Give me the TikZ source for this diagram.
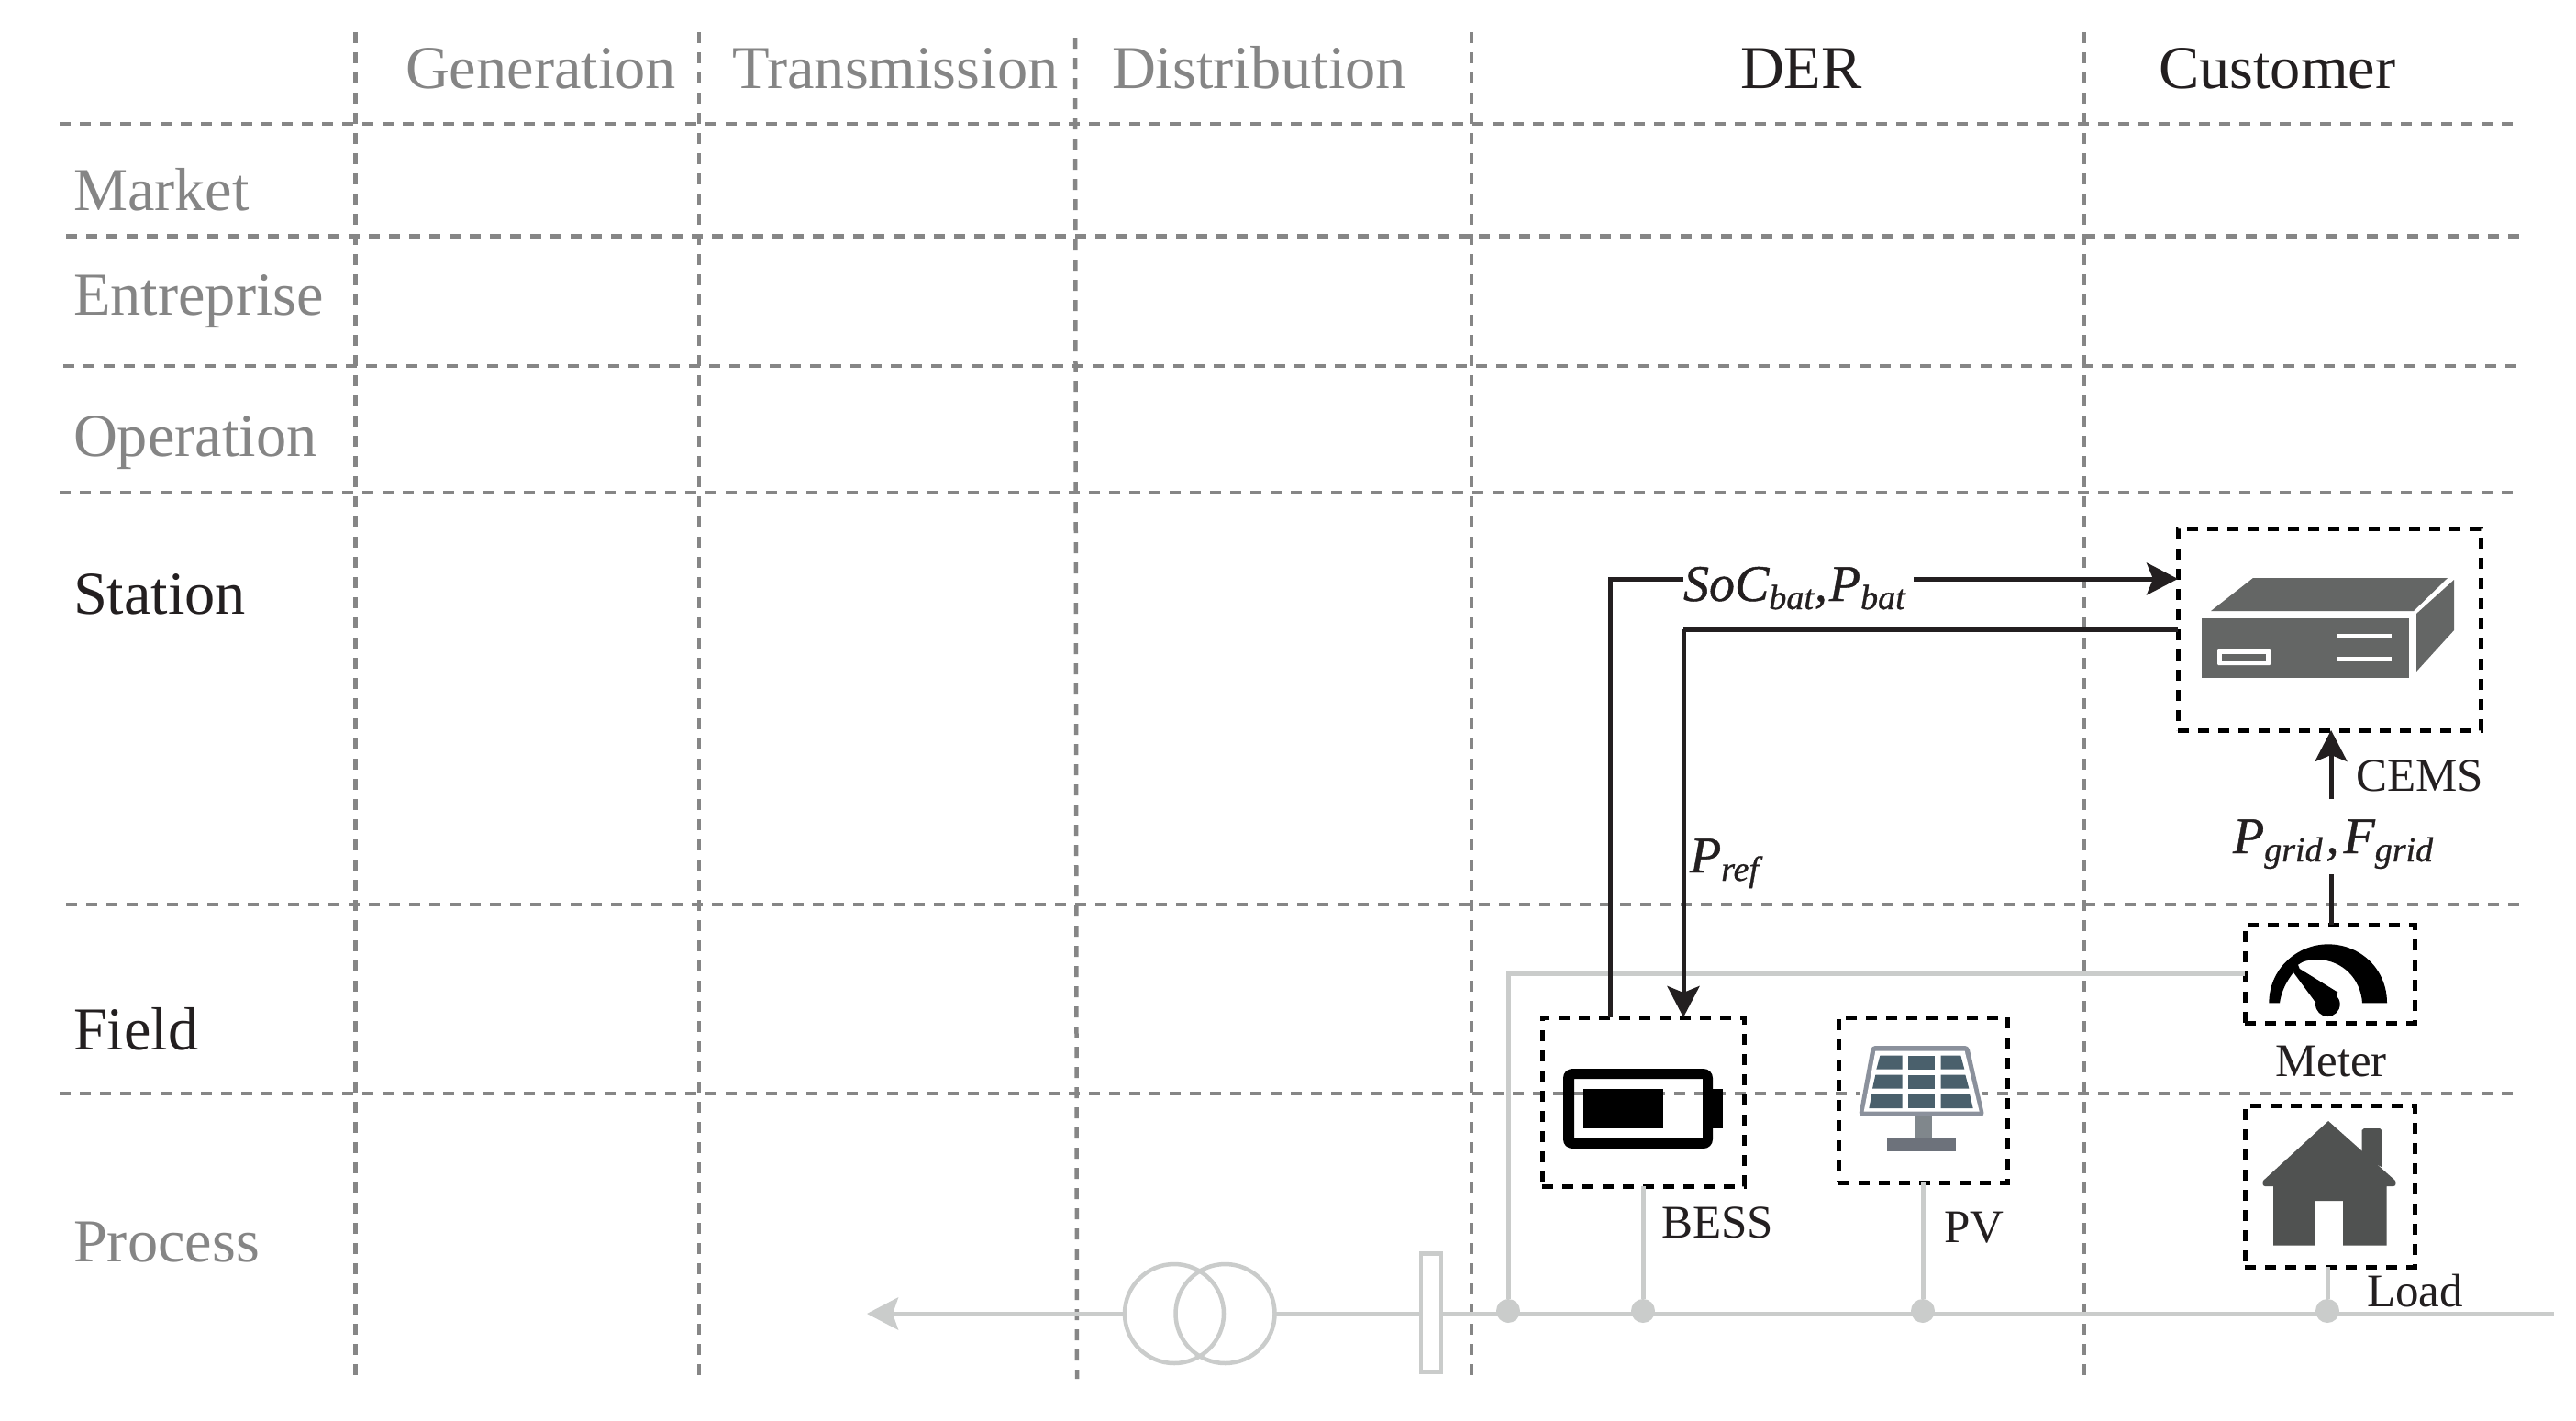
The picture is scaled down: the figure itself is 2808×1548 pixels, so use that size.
\documentclass[tikz,border=0pt]{standalone}
\usepackage{fontspec}
\setmainfont{Liberation Serif}
\newfontface\sgfont{Liberation Serif Italic}[FakeBold=0.8]
\usetikzlibrary{arrows.meta}
\definecolor{gridgray}{HTML}{868686}
\definecolor{txtgray}{HTML}{858585}
\definecolor{ink}{HTML}{231F20}
\definecolor{wiregray}{HTML}{CACCCB}
\definecolor{servergray}{HTML}{646665}
\definecolor{housegray}{HTML}{505251}
\definecolor{pvframe}{HTML}{8B919C}
\definecolor{pvcell}{HTML}{4A606C}
\definecolor{pvstem}{HTML}{80878C}
\definecolor{pvbase}{HTML}{6D727B}
\newcommand{\bigfs}{\fontsize{66.4}{66.4}\selectfont}
\newcommand{\midfs}{\fontsize{51}{51}\selectfont}
\newcommand{\sglabel}[2]{{\sgfont\fontsize{56}{56}\selectfont #1\raisebox{-9pt}{\sgfont\fontsize{38}{38}\selectfont #2}}}
\tikzset{
  gridv/.style={draw=gridgray,line width=4.5pt,dash pattern=on 12pt off 10pt},
  gridh/.style={draw=gridgray,line width=4.5pt,dash pattern=on 12pt off 10pt},
  dbox/.style={draw=black,line width=5pt,dash pattern=on 12pt off 10pt,inner sep=0pt,outer sep=0pt,rectangle},
  lbl/.style={anchor=base west,inner sep=0pt,outer sep=0pt,text=ink,font=\bigfs},
  glbl/.style={lbl,text=txtgray},
  slbl/.style={lbl,font=\midfs},
  ctrl/.style={draw=ink,line width=5pt},
  ctrltip/.style={ctrl,-{Stealth[length=34pt,width=35pt,inset=7pt]}},
  wire/.style={draw=wiregray,line width=5pt},
  dot/.style={circle,fill=wiregray,inner sep=0pt,outer sep=0pt,minimum size=26pt},
  coil/.style={circle,draw=wiregray,line width=4.5pt,inner sep=0pt,outer sep=0pt,minimum size=108pt},
  breaker/.style={rectangle,draw=wiregray,line width=4.5pt,fill=white,inner sep=0pt,outer sep=0pt,minimum width=22pt,minimum height=129pt},
}
\begin{document}
\begin{tikzpicture}[x=1pt,y=-1pt]
\useasboundingbox (0,0) rectangle (2808,1548);
\fill[white] (0,0) rectangle (2808,1548);
% grid
\draw[gridv] (387.5,35) -- (387.5,1503);
\draw[gridv] (762,35) -- (762,1503);
\draw[gridv] (1172,41) -- (1174,1503);
\draw[gridv] (1604,35) -- (1604,1503);
\draw[gridv] (2272,35) -- (2272,1503);
\draw[gridh] (65,135) -- (2747,135);
\draw[gridh] (72,257.5) -- (2754,257.5);
\draw[gridh] (69,399) -- (2747,399);
\draw[gridh] (65,537) -- (2747,537);
\draw[gridh] (72,986) -- (2747,986);
\draw[gridh] (65,1192) -- (2747,1192);
% header labels
\node[glbl] (hgen) at (442,96) {Generation};
\node[glbl] (htra) at (798,96) {Transmission};
\node[glbl] (hdis) at (1212,96) {Distribution};
\node[lbl] (hder) at (1897,96) {DER};
\node[lbl] (hcus) at (2353,96) {Customer};
\node[glbl] (rmar) at (80,229) {Market};
\node[glbl] (rent) at (80,343.5) {Entreprise};
\node[glbl] (rope) at (80,497) {Operation};
\node[lbl] (rsta) at (80,669) {Station};
\node[lbl] (rfie) at (80,1144) {Field};
\node[glbl] (rpro) at (80,1375) {Process};
% dashed boxes
\node[dbox,minimum width=330pt,minimum height=220pt] (cems) at (2539,686) {};
\node[dbox,minimum width=220pt,minimum height=184pt] (bess) at (1791,1201) {};
\node[dbox,minimum width=184pt,minimum height=180pt] (pv) at (2096,1199) {};
\node[dbox,minimum width=185pt,minimum height=107pt] (meter) at (2539.5,1061.5) {};
\node[dbox,minimum width=185pt,minimum height=176pt] (load) at (2539.5,1293) {};
% bus
\node[coil] (tl) at (1280,1432) {};
\node[coil] (tr) at (1335.5,1432) {};
\node[breaker] (brk) at (1560,1431) {};
\node[dot] (d1) at (1644,1429) {};
\node[dot] (d2) at (1791,1429) {};
\node[dot] (d3) at (2096,1429) {};
\node[dot] (d4) at (2537,1429) {};
\coordinate (busr) at (2784,1432);
\coordinate (busl) at (945,1432);
\draw[wire,-{Stealth[length=34pt,width=35pt,inset=6pt]}] (tl.west) -- (busl);
\draw[wire] (tr.east) -- (brk.east |- tr.east);
\draw[wire] (brk.east |- tr.east) -- (busr);
\node[breaker] at (brk) {};
\draw[wire] (meter.west) -| (d1.north);
\draw[wire] (bess.south) -- (bess.south |- d2.north);
\draw[wire] (pv.south) -- (pv.south |- d3.north);
\draw[wire] (load.south -| d4) -- (d4.north);
% control signals
\node[lbl] (soc) at (1835,655) {\sglabel{SoC}{bat}\hspace{1pt}\sglabel{,\hspace{2pt}P}{bat}};
\node[lbl] (pref) at (1842,951) {\sglabel{P}{ref}};
\node[lbl] (pgrid) at (2434,930) {\sglabel{P}{grid}\hspace{4pt}\sglabel{,\hspace{5pt}F}{grid}};
\node[slbl] (cemsl) at (2568,862) {CEMS};
\coordinate (socy) at (1755,631);
\coordinate (prefy) at (1835,686);
\coordinate (socr) at (2086,631);
\draw[ctrl] (bess.north -| socy) |- (soc.west |- socy);
\draw[ctrltip] (socr) -- (cems.west |- socy);
\draw[ctrl] (cems.west |- prefy) -- (prefy);
\draw[ctrltip] (prefy) -- (bess.north -| prefy);
\coordinate (pg1) at (2541,953);
\coordinate (pg2) at (2541,871);
\draw[ctrl] (meter.north -| pg1) -- (pg1);
\draw[ctrltip] (pg2) -- (cems.south -| pg2);
% device labels
\node[slbl] (lbess) at (1811,1349.5) {BESS};
\node[slbl] (lpv) at (2119,1354) {PV};
\node[slbl] (lmet) at (2480,1173) {Meter};
\node[slbl] (llod) at (2580,1424) {Load};
% server icon
\fill[servergray] (2400,674) rectangle (2626,739);
\fill[servergray] (2410,666) -- (2456,630) -- (2668,630) -- (2631,666) -- cycle;
\fill[servergray] (2634,669) -- (2675,632) -- (2675,687) -- (2634,732) -- cycle;
\fill[white] (2547,691) rectangle (2607,696);
\fill[white] (2547,716) rectangle (2607,721);
\fill[white,rounded corners=1pt] (2417,708) rectangle (2475,725);
\fill[servergray] (2422,713) rectangle (2470,720);
% battery icon
\fill[black,even odd rule]
  [rounded corners=10pt] (1704,1165) rectangle (1867,1252)
  [sharp corners] (1716,1176) rectangle (1856,1241);
\fill[black] (1726,1187) rectangle (1813,1230);
\fill[black] (1866,1187) rectangle (1878,1230);
% pv icon
\begin{scope}[shift={(2000,1100)},x=0.33333pt,y=-0.33333pt]
\draw[white,line width=6pt] (120,120) -- (438,120) -- (490,350) -- (78,350) -- cycle;
\fill[pvframe,rounded corners=4pt] (120,120) -- (438,120) -- (490,350) -- (78,350) -- cycle;
\fill[white] (133,137) -- (425,137) -- (473,335) -- (95,335) -- cycle;
\fill[pvcell] (148,152) -- (221,152) -- (221,197) -- (136,197) -- cycle;
\fill[pvcell] (241,152) rectangle (327,197);
\fill[pvcell] (347,152) -- (412,152) -- (424,197) -- (347,197) -- cycle;
\fill[pvcell] (133,215) -- (221,215) -- (221,260) -- (123,260) -- cycle;
\fill[pvcell] (241,215) rectangle (327,260);
\fill[pvcell] (347,215) -- (427,215) -- (439,260) -- (347,260) -- cycle;
\fill[pvcell] (121,277) -- (221,277) -- (221,324) -- (112,324) -- cycle;
\fill[pvcell] (241,277) rectangle (327,324);
\fill[pvcell] (347,277) -- (441,277) -- (452,324) -- (347,324) -- cycle;
\fill[pvstem] (262,350) rectangle (317,425);
\fill[pvbase] (172,423) rectangle (395,466);
\end{scope}
% meter icon
\begin{scope}[shift={(2440,1000)},x=0.33333pt,y=-0.33333pt]
\fill[black] (100,280) .. controls (100,170) and (190,88) .. (293,88)
  .. controls (400,88) and (486,170) .. (486,280) -- (405,280)
  .. controls (400,200) and (340,140) .. (260,138)
  .. controls (235,138) and (210,142) .. (195,155)
  -- (200,168) -- (180,180) .. controls (160,205) and (140,240) .. (135,280) -- cycle;
\fill[black] (195,165) -- (325,245) -- (300,300) -- (250,275) -- (180,180) -- cycle;
\fill[black] (292,284) circle (40);
\end{scope}
% house icon
\fill[housegray] (2574.6,1262) -- (2574.6,1232) -- (2577,1230) -- (2594,1230) -- (2596,1232) -- (2596,1272) -- cycle;
\fill[housegray] (2538,1222) -- (2611,1287) [rounded corners=3pt] -- (2612,1293) [sharp corners] -- (2601.5,1293) -- (2601.5,1357.5) -- (2554,1357.5) -- (2554,1309) -- (2523,1309) -- (2523,1357.5) -- (2478,1357.5) -- (2478,1293) [rounded corners=3pt] -- (2466,1293) [sharp corners] -- (2467,1287) -- cycle;
\end{tikzpicture}
\end{document}
